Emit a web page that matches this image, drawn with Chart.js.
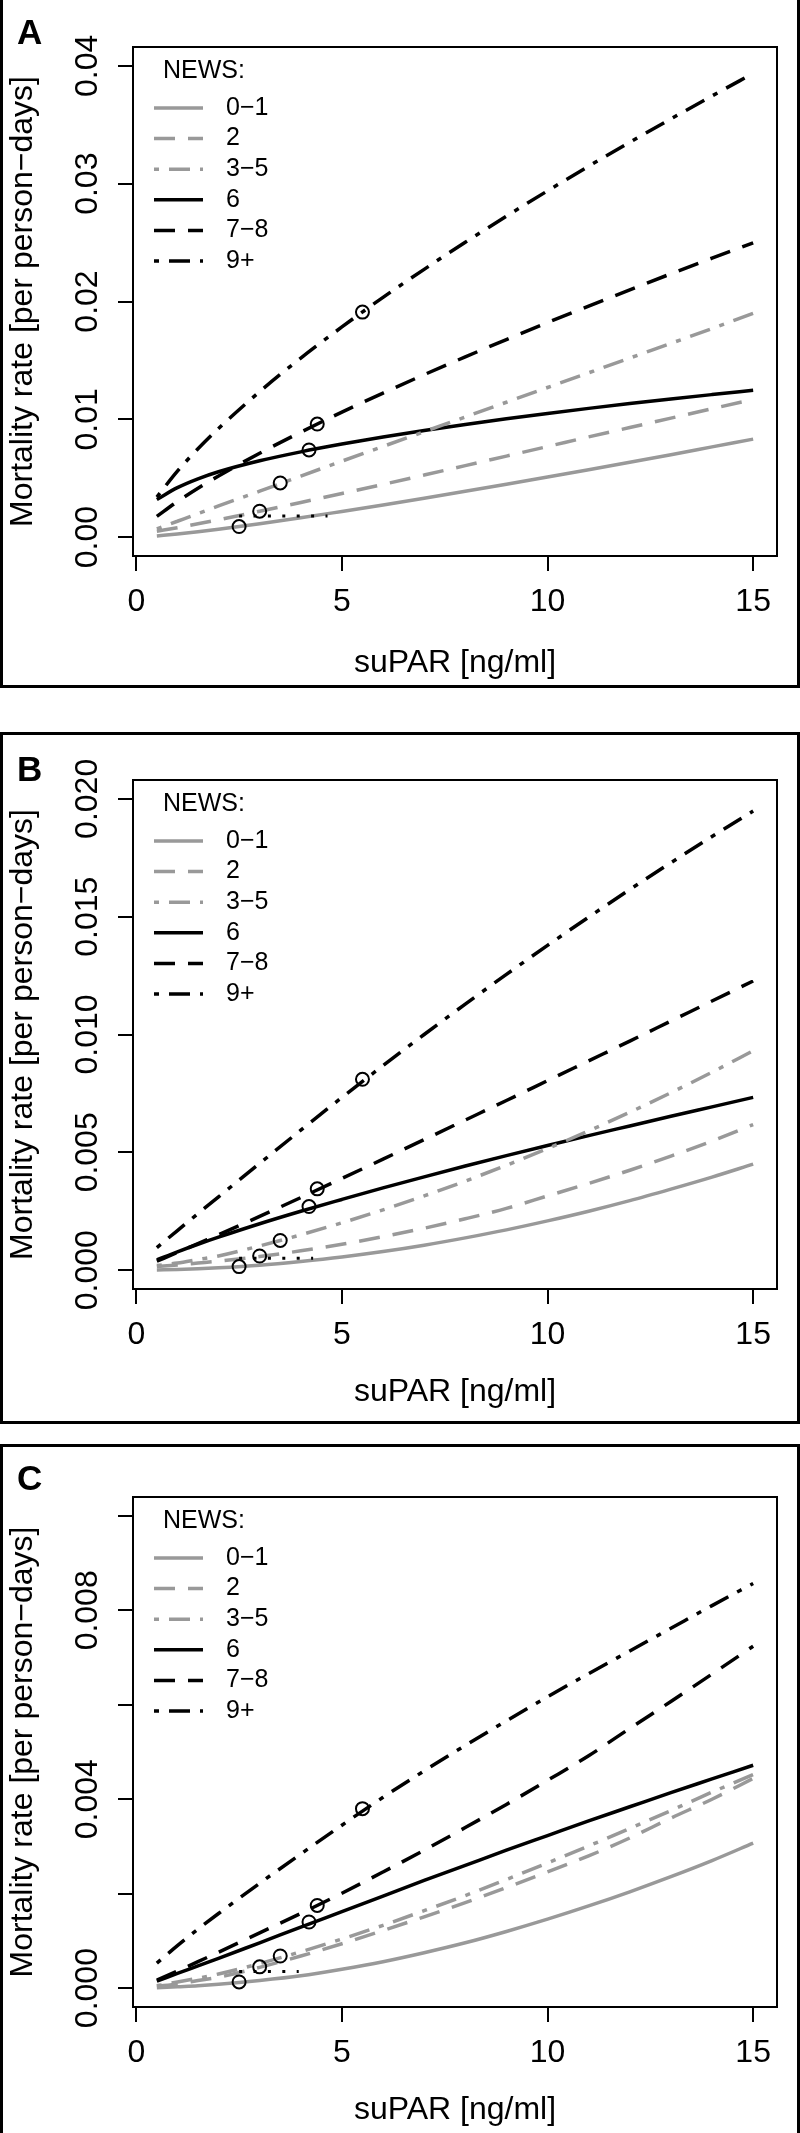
<!DOCTYPE html>
<html>
<head>
<meta charset="utf-8">
<script src="https://cdn.jsdelivr.net/npm/chart.js@4.4.1/dist/chart.umd.min.js"></script>
<style>
  body{margin:0;background:#fff;width:800px;height:2133px;position:relative;overflow:hidden;font-family:"Liberation Sans",Arial,sans-serif;}
  .panel{position:absolute;left:0;width:800px;box-sizing:border-box;border:3px solid #000;background:#fff;}
  .panel canvas{position:absolute;left:0;top:0;}
  .tag{position:absolute;left:14px;font-weight:bold;font-size:35px;line-height:35px;color:#000;}
</style>
</head>
<body>
<div class="panel" style="top:-3px;height:691px"><canvas id="cA"></canvas><div class="tag" style="top:14px">A</div></div>
<div class="panel" style="top:732px;height:692px"><canvas id="cB"></canvas><div class="tag" style="top:16px">B</div></div>
<div class="panel" style="top:1444px;height:692px"><canvas id="cC"></canvas><div class="tag" style="top:13px">C</div></div>
<script>
// suPAR grid the curves are read at
const suparX = [0.5, 1, 1.5, 2, 3, 4, 5, 6, 7, 8, 9, 10, 11, 12, 13, 14, 15];
const newsLabels = ['0\u22121', '2', '3\u22125', '6', '7\u22128', '9+'];
const xTicks = [0, 5, 10, 15];

// panel A
const a01 = [0.0001, 0.00026, 0.00045, 0.00067, 0.00114, 0.00164, 0.00218, 0.00273, 0.0033, 0.00389, 0.00449, 0.0051, 0.00572, 0.00636, 0.007, 0.00766, 0.00832];
const a2  = [0.0005, 0.0008, 0.00113, 0.00148, 0.0022, 0.00294, 0.00371, 0.00448, 0.00527, 0.00607, 0.00688, 0.00769, 0.00851, 0.0093, 0.0101, 0.0109, 0.0117];
const a35 = [0.0007, 0.00135, 0.002, 0.00265, 0.0039, 0.00518, 0.00645, 0.0077, 0.00895, 0.0102, 0.01145, 0.0127, 0.01395, 0.0152, 0.01645, 0.0177, 0.019];
const a6  = [0.0032, 0.0042, 0.00495, 0.00555, 0.00648, 0.00724, 0.0079, 0.0085, 0.00905, 0.00956, 0.01004, 0.0105, 0.01093, 0.01134, 0.01173, 0.0121, 0.01246];
const a78 = [0.00176, 0.00302, 0.00415, 0.00519, 0.00712, 0.00891, 0.01061, 0.01223, 0.01379, 0.0153, 0.01677, 0.01821, 0.01961, 0.02099, 0.02235, 0.02368, 0.02498];
const a9  = [0.0034, 0.0056, 0.0075, 0.00922, 0.01235, 0.0152, 0.01784, 0.02035, 0.02273, 0.02503, 0.02724, 0.02939, 0.03148, 0.03352, 0.0355, 0.03745, 0.03936];
const yTicksA = [0, 0.01, 0.02, 0.03, 0.04];
const yLabelsA = ['0.00', '0.01', '0.02', '0.03', '0.04'];

// panel B
const b01 = [0.00001, 0.00003, 0.00006, 0.0001, 0.00021, 0.00037, 0.00056, 0.00079, 0.00106, 0.00137, 0.00171, 0.00209, 0.0025, 0.00295, 0.00344, 0.00395, 0.0045];
const b2  = [0.00015, 0.00022, 0.0003, 0.00038, 0.00058, 0.00082, 0.0011, 0.00142, 0.00178, 0.00218, 0.00262, 0.00315, 0.00368, 0.00424, 0.00484, 0.00548, 0.00618];
const b35 = [0.0002, 0.0003, 0.00045, 0.0006, 0.00103, 0.0015, 0.00201, 0.00256, 0.00315, 0.00378, 0.00445, 0.00516, 0.00591, 0.0067, 0.00753, 0.0084, 0.00931];
const b6  = [0.00044, 0.00078, 0.0011, 0.0014, 0.00197, 0.0025, 0.003, 0.00349, 0.00396, 0.00442, 0.00486, 0.00529, 0.00571, 0.00612, 0.00653, 0.00693, 0.00733];
const b78 = [0.00038, 0.00075, 0.00113, 0.0015, 0.00228, 0.00308, 0.00389, 0.00471, 0.00554, 0.00637, 0.0072, 0.00804, 0.00888, 0.00972, 0.01057, 0.01142, 0.01227];
const b9  = [0.00096, 0.00168, 0.0024, 0.00311, 0.00453, 0.00594, 0.00733, 0.00868, 0.01, 0.01129, 0.01255, 0.01378, 0.01498, 0.01615, 0.01729, 0.0184, 0.01948];
const yTicksB = [0, 0.005, 0.01, 0.015, 0.02];
const yLabelsB = ['0.000', '0.005', '0.010', '0.015', '0.020'];

// panel C
const c01 = [0.00001, 0.00003, 0.00005, 0.00008, 0.00016, 0.00026, 0.0004, 0.00056, 0.00075, 0.00096, 0.0012, 0.00146, 0.00174, 0.00204, 0.00236, 0.0027, 0.00307];
const c2  = [0.00004, 0.00009, 0.00016, 0.00023, 0.00044, 0.00068, 0.00094, 0.00122, 0.00151, 0.00181, 0.00213, 0.00246, 0.0028, 0.00318, 0.0036, 0.004, 0.00444];
const c35 = [0.00005, 0.00013, 0.00021, 0.0003, 0.00052, 0.00077, 0.00104, 0.00133, 0.00164, 0.00196, 0.0023, 0.00265, 0.00301, 0.00338, 0.00376, 0.00415, 0.00452];
const c6  = [0.00015, 0.00031, 0.00047, 0.00063, 0.00096, 0.00129, 0.00162, 0.00195, 0.00228, 0.0026, 0.00292, 0.00323, 0.00354, 0.00384, 0.00414, 0.00443, 0.00472];
const c78 = [0.00017, 0.00036, 0.00056, 0.00076, 0.00117, 0.00158, 0.00201, 0.00246, 0.00292, 0.0034, 0.00389, 0.0044, 0.00492, 0.0055, 0.00607, 0.00665, 0.00724];
const c9  = [0.00053, 0.0009, 0.00125, 0.00158, 0.00222, 0.00284, 0.00345, 0.00404, 0.0046, 0.00514, 0.00566, 0.00617, 0.00666, 0.00714, 0.00762, 0.0081, 0.00857];
const yTicksC = [0, 0.002, 0.004, 0.006, 0.008, 0.01];
const yLabelsC = ['0.000', '', '0.004', '', '0.008', ''];

// open circles (one per NEWS group) and the short dotted segment
const markX = [2.5, 3.0, 3.5, 4.2, 4.4, 5.5];
const markA = [0.0009, 0.0022, 0.0046, 0.0074, 0.0096, 0.0191];
const markB = [0.00015, 0.0006, 0.00126, 0.0027, 0.00345, 0.0081];
const markC = [0.00013, 0.00045, 0.00068, 0.0014, 0.00175, 0.0038];
const dotXA = [2.5, 4.65], dotYA = 0.0018;
const dotXB = [2.5, 4.3],  dotYB = 0.0005;
const dotXC = [2.5, 3.95], dotYC = 0.00035;

const FONT = '"Liberation Sans", Arial, sans-serif';
Chart.defaults.font.family = FONT;
Chart.defaults.color = '#000';

const GRAY = '#999999', BLACK = '#000000';
const styles = [
  {c: GRAY, d: []}, {c: GRAY, d: [21, 13]}, {c: GRAY, d: [5, 10, 21, 10]},
  {c: BLACK, d: []}, {c: BLACK, d: [21, 13]}, {c: BLACK, d: [5, 10, 21, 10]}
];

function pts(xs, ys){ return xs.map((x, i) => ({x: x, y: ys[i]})); }

function framePlugin(yTicks, yLabels){
  return {
    id: 'frame',
    afterDatasetsDraw(chart){
      const {ctx, chartArea: a, scales} = chart;
      ctx.save();
      ctx.strokeStyle = '#000'; ctx.lineWidth = 2;
      ctx.strokeRect(a.left, a.top, a.right - a.left, a.bottom - a.top);
      // R style y labels, parallel to the axis
      ctx.fillStyle = '#000';
      ctx.font = '32px ' + FONT;
      ctx.textAlign = 'center'; ctx.textBaseline = 'alphabetic';
      yTicks.forEach((v, i) => {
        if(!yLabels[i]) return;
        const py = scales.y.getPixelForValue(v);
        ctx.save(); ctx.translate(a.left - 48, py); ctx.rotate(-Math.PI/2);
        ctx.fillText(yLabels[i], 0, 11.5); ctx.restore();
      });
      // legend
      ctx.font = '25px ' + FONT;
      ctx.textAlign = 'left'; ctx.textBaseline = 'middle';
      ctx.fillText('NEWS:', a.left + 30, a.top + 24);
      newsLabels.forEach((lab, i) => {
        const ds = chart.data.datasets[i];
        const y = a.top + 61 + i*30.6;
        ctx.save();
        ctx.strokeStyle = ds.borderColor; ctx.lineWidth = ds.borderWidth;
        ctx.setLineDash(ds.borderDash); ctx.beginPath();
        ctx.moveTo(a.left + 21, y); ctx.lineTo(a.left + 70, y); ctx.stroke();
        ctx.restore();
        ctx.fillText(lab, a.left + 93, y);
      });
      ctx.restore();
    }
  };
}

function makePanel(id, h, boxTop, boxBottom, titlePad, yMax, series, yTicks, yLabels, marks, dotX, dotY){
  const cv = document.getElementById(id);
  cv.width = 794; cv.height = h;
  cv.style.width = '794px'; cv.style.height = h + 'px';
  const datasets = series.map((ys, i) => ({
    data: pts(suparX, ys), borderColor: styles[i].c, borderDash: styles[i].d,
    borderWidth: 3.5, borderCapStyle: 'butt', pointRadius: 0, fill: false,
    cubicInterpolationMode: 'monotone', order: 1
  }));
  datasets.push({
    data: pts(dotX, [dotY, dotY]), borderColor: BLACK, borderDash: [3, 11.4],
    borderWidth: 3, borderCapStyle: 'butt', pointRadius: 0, fill: false, order: 0
  });
  datasets.push({
    data: pts(markX, marks), showLine: false, pointRadius: 6.5, pointBorderWidth: 2,
    pointBorderColor: BLACK, pointBackgroundColor: 'rgba(0,0,0,0)', order: -1
  });
  const tickFont = {size: 32, family: FONT};
  new Chart(cv, {
    type: 'line',
    data: {datasets: datasets},
    options: {
      responsive: false, animation: false, devicePixelRatio: 1,
      layout: {padding: {top: boxTop, right: 20, left: 0, bottom: 0}},
      plugins: {legend: {display: false}, tooltip: {enabled: false}},
      scales: {
        x: {
          type: 'linear', min: -0.08, max: 15.58,
          afterBuildTicks: s => { s.ticks = xTicks.map(v => ({value: v})); },
          afterFit: s => { s.height = h - boxBottom; },
          ticks: {font: tickFont, color: '#000', padding: 12, maxRotation: 0, autoSkip: false, callback: v => String(v)},
          grid: {display: true, drawOnChartArea: false, drawTicks: true, tickLength: 15, color: '#000', lineWidth: 2},
          border: {display: false},
          title: {display: true, text: 'suPAR [ng/ml]', font: tickFont, color: '#000', padding: {top: 0, bottom: titlePad}}
        },
        y: {
          type: 'linear', min: -0.04*yMax, max: 1.04*yMax,
          afterBuildTicks: s => { s.ticks = yTicks.map(v => ({value: v})); },
          afterFit: s => { s.width = 130; },
          ticks: {display: false},
          grid: {display: true, drawOnChartArea: false, drawTicks: true, tickLength: 15, color: '#000', lineWidth: 2},
          border: {display: false},
          title: {display: true, text: 'Mortality rate [per person\u2212days]', font: tickFont, color: '#000', padding: {top: 1, bottom: 0}}
        }
      }
    },
    plugins: [framePlugin(yTicks, yLabels)]
  });
}

makePanel('cA', 685, 47, 556, 2.8, 0.04, [a01, a2, a35, a6, a78, a9], yTicksA, yLabelsA, markA, dotXA, dotYA);
makePanel('cB', 686, 45, 554, 9.8, 0.02, [b01, b2, b35, b6, b78, b9], yTicksB, yLabelsB, markB, dotXB, dotYB);
makePanel('cC', 686, 50, 560, 3.8, 0.01, [c01, c2, c35, c6, c78, c9], yTicksC, yLabelsC, markC, dotXC, dotYC);
</script>
</body>
</html>
